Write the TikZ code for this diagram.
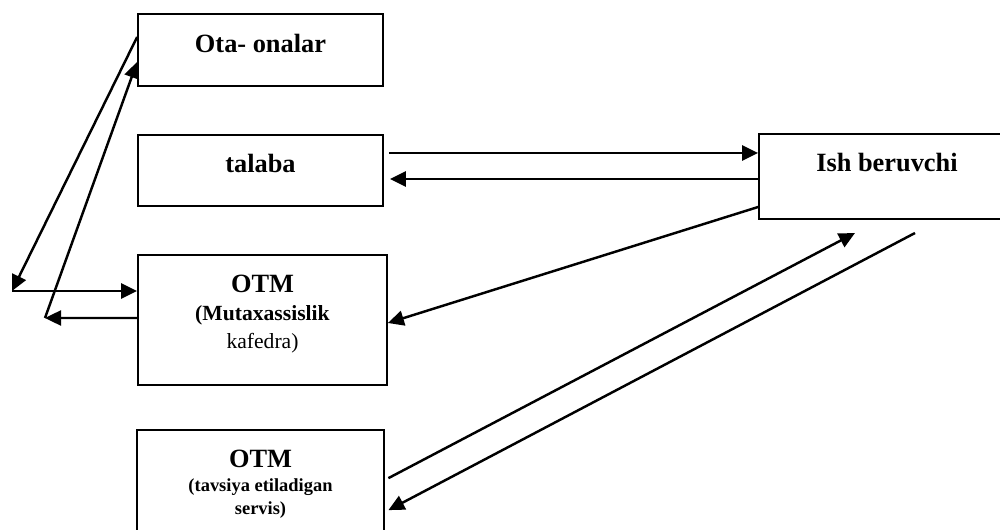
\documentclass[tikz,border=0pt]{standalone}
\usepackage{fontspec}
\setmainfont{Liberation Serif}
\usetikzlibrary{arrows.meta}
\tikzset{
    box/.style={draw, line width=1pt, minimum width=4.9cm, inner sep=0pt},
    arr/.style={-{Triangle[length=3.2mm, width=3mm]}, line width=1.4pt},
    lbl/.style={font=\bfseries\fontsize{15}{17}\selectfont, align=center, inner sep=0pt}
}
\begin{document}
\begin{tikzpicture}
        \useasboundingbox (0, 0) rectangle (20, -10.6);
        \clip (0, 0) rectangle (20, -10.6);
        \node[box, minimum height=1.44cm] (ota) at (5.21, -1.0) {};
        \node[box, minimum height=1.42cm] (talaba) at (5.21, -3.41) {};
        \node[box, minimum width=4.98cm, minimum height=2.6cm] (otm) at (5.25, -6.40) {};
        \node[box, minimum width=4.94cm, minimum height=2.3cm] (servis) at (5.21, -9.75) {};
        \node[box, minimum width=5.12cm, minimum height=1.7cm] (ish) at (17.74, -3.53) {};
        \node[lbl] (otatext) at ([yshift=0.14cm]ota.center) {Ota- onalar};
        \node[lbl] (talabatext) at ([yshift=0.15cm]talaba.center) {talaba};
        \node[lbl] (ishtext) at ([yshift=0.27cm]ish.center) {Ish beruvchi};
        \node[lbl] (otmtext) at ([yshift=0.12cm]otm.center) {OTM\\[-1pt]{\fontsize{12.3}{14}\selectfont(Mutaxassislik}\\[-1pt]{\normalfont\fontsize{12.3}{14}\selectfont kafedra)}};
        \node[lbl] (servistext) at ([yshift=0.07cm]servis.center) {OTM\\[-3pt]{\fontsize{10.5}{13}\selectfont(tavsiya etiladigan}\\[-4pt]{\fontsize{10.5}{13}\selectfont servis)}};
        \coordinate (lefttop) at (0.24, -5.82);
        \coordinate (leftlow) at (0.9, -6.36);
        \coordinate (ishin) at (17.1, -4.66);
        \coordinate (ishout) at (18.3, -4.66);
        \draw[arr] ([yshift=0.26cm]ota.west) -- (lefttop);
        \draw[arr] (lefttop) -- (lefttop -| otm.west);
        \draw[arr] ([yshift=0.04cm]otm.west) -- (leftlow);
        \draw[arr] (leftlow) -- ([yshift=-0.24cm]ota.west);
        \draw[arr, shorten <=0.1cm] ([yshift=0.35cm]talaba.east) -- ([yshift=0.35cm]talaba.east -| ish.west);
        \draw[arr, shorten >=0.12cm] ([yshift=-0.17cm]talaba.east -| ish.west) -- ([yshift=-0.17cm]talaba.east);
        \draw[arr] ([yshift=-0.61cm]ish.west) -- ([yshift=-0.06cm]otm.east);
        \draw[arr, shorten <=0.08cm] ([yshift=0.15cm]servis.east) -- (ishin);
        \draw[arr, shorten >=0.08cm] (ishout) -- ([yshift=-0.49cm]servis.east);
    \end{tikzpicture}
\end{document}
